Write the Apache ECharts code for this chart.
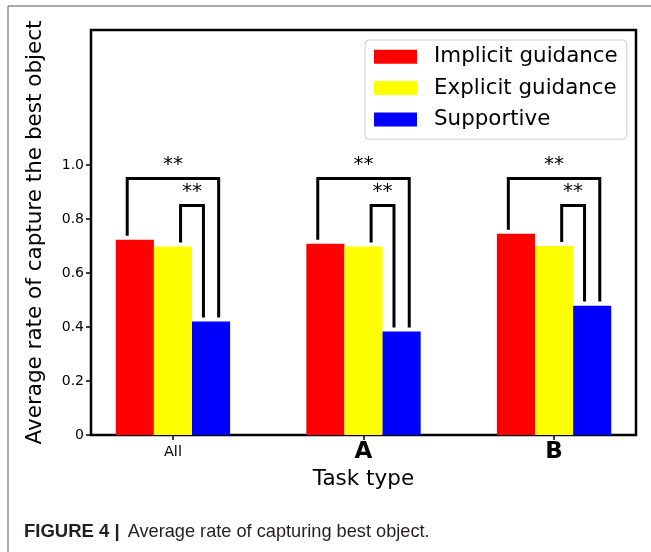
<!DOCTYPE html>
<html>
<head>
<meta charset="utf-8">
<script src="https://cdn.jsdelivr.net/npm/echarts@6/dist/echarts.min.js"></script>
<style>
html,body{margin:0;padding:0;background:#fff;}
#chart{width:651px;height:552px;}
</style>
</head>
<body>
<div id="chart"></div>
<script>
// ---- data ----
var categories = ['All', 'A', 'B'];
var seriesNames = ['Implicit guidance', 'Explicit guidance', 'Supportive'];
var implicitGuidance = [0.723, 0.708, 0.745];
var explicitGuidance = [0.698, 0.698, 0.700];
var supportive = [0.420, 0.383, 0.479];
var yTicks = [0, 0.2, 0.4, 0.6, 0.8, 1.0];
var sigPairs = [[0, 2], [1, 2]];      // compared bars within each group
var sigLabels = ['**', '**'];

// ---- layout ----
var W = 651, H = 552;
var plotLeft = 91, plotRight = 636, plotTop = 30, plotBottom = 435;
var xMin = -0.43, xMax = 2.43;
var unit = (plotRight - plotLeft) / (xMax - xMin);
var catLeft = plotLeft + (-0.5 - xMin) * unit;
var catWidth = categories.length * unit;
var colors = ['#ff0000', '#ffff00', '#0000ff'];
var allValues = [implicitGuidance, explicitGuidance, supportive];
var barW = 0.2;
var bracketTops = [0.95, 0.85];

var chart = echarts.init(document.getElementById('chart'), null, {renderer: 'canvas'});

var bracketData = [];
for (var g = 0; g < categories.length; g++) {
  for (var p = 0; p < sigPairs.length; p++) bracketData.push([g, p]);
}

function bracketGeom(g, p) {
  var pair = sigPairs[p];
  var off = function (i) { return (i - 1) * barW; };
  var x1, x2;
  if (p === 0) { x1 = g + off(pair[0]) - 0.04; x2 = g + off(pair[1]) + 0.04; }
  else { x1 = g + off(pair[0]) + 0.04; x2 = g + off(pair[1]) - 0.04; }
  return {x1: x1, x2: x2, top: bracketTops[p],
          b1: allValues[pair[0]][g] + 0.015, b2: allValues[pair[1]][g] + 0.015};
}

function renderBracket(params, api) {
  var G = bracketGeom(api.value(0), api.value(1));
  var P1 = api.coord([G.x1, G.b1]), P2 = api.coord([G.x1, G.top]);
  var P3 = api.coord([G.x2, G.top]), P4 = api.coord([G.x2, G.b2]);
  return {type: 'polyline', shape: {points: [P1, P2, P3, P4]},
          style: {stroke: '#000', lineWidth: 3, fill: null, lineJoin: 'miter'}};
}

function renderStars(params, api) {
  var p = api.value(1);
  var G = bracketGeom(api.value(0), p);
  var T = api.coord([(G.x1 + G.x2) / 2, G.top + 0.015]);
  return {type: 'text', x: T[0], y: T[1],
          style: {text: sigLabels[p], fill: '#000', fontSize: 20,
                  fontFamily: 'DejaVu Sans', align: 'center', verticalAlign: 'bottom'}};
}

var barSeries = seriesNames.map(function (name, i) {
  return {
    name: name, type: 'bar', xAxisIndex: 1, yAxisIndex: 1,
    data: allValues[i], barWidth: (barW * 100) + '%', barGap: '0%',
    itemStyle: {color: colors[i]}, animation: false, silent: true
  };
});

var option = {
  backgroundColor: '#fff',
  animation: false,
  textStyle: {fontFamily: 'DejaVu Sans'},
  grid: [
    {left: plotLeft, right: W - plotRight, top: plotTop, bottom: H - plotBottom,
     show: true, borderColor: '#000', borderWidth: 2.5, backgroundColor: 'transparent'},
    {left: catLeft, width: catWidth, top: plotTop, bottom: H - plotBottom}
  ],
  xAxis: [
    {type: 'value', gridIndex: 0, min: xMin, max: xMax, position: 'bottom',
     axisLine: {show: false, onZero: false}, splitLine: {show: false},
     axisTick: {show: true, customValues: [0, 1, 2], length: 5, lineStyle: {color: '#000', width: 1.5}},
     axisLabel: {customValues: [0, 1, 2], margin: 17, verticalAlign: 'middle',
       formatter: function (v) {
         var c = categories[Math.round(v)];
         return c === 'All' ? '{n|' + c + '}' : '{b|' + c + '}';
       },
       rich: {
         n: {fontSize: 14.5, color: '#000', fontFamily: 'DejaVu Sans'},
         b: {fontSize: 23, fontWeight: 'bold', color: '#000', fontFamily: 'DejaVu Sans'}
       }},
     name: 'Task type', nameLocation: 'middle', nameGap: 41,
     nameTextStyle: {fontSize: 21.5, color: '#000', fontFamily: 'DejaVu Sans', verticalAlign: 'middle'}},
    {type: 'category', gridIndex: 1, data: categories, show: false}
  ],
  yAxis: [
    {type: 'value', gridIndex: 0, min: 0, max: 1.5, position: 'left',
     axisLine: {show: false, onZero: false}, splitLine: {show: false},
     axisTick: {show: true, customValues: yTicks, length: 5, lineStyle: {color: '#000', width: 1.5}},
     axisLabel: {customValues: yTicks, margin: 7, fontSize: 14, color: '#000', fontFamily: 'DejaVu Sans',
       formatter: function (v) { return v === 0 ? '0' : v.toFixed(1); }},
     name: 'Average rate of capture the best object', nameLocation: 'middle', nameGap: 56,
     nameTextStyle: {fontSize: 21.5, color: '#000', fontFamily: 'DejaVu Sans', verticalAlign: 'middle'}},
    {type: 'value', gridIndex: 1, min: 0, max: 1.5, show: false}
  ],
  legend: {
    data: seriesNames, orient: 'vertical', left: 365, top: 40,
    icon: 'rect', itemWidth: 43, itemHeight: 14, itemGap: 10,
    padding: [6, 9, 9, 9],
    backgroundColor: 'rgba(255,255,255,0.8)', borderColor: '#cccccc', borderWidth: 1, borderRadius: 4,
    textStyle: {fontSize: 21.4, color: '#000', fontFamily: 'DejaVu Sans', lineHeight: 21.4, padding: [0, 0, 0, 12]},
    selectedMode: false
  },
  graphic: [
    {type: 'line', silent: true, shape: {x1: 8, y1: 6, x2: W, y2: 6}, style: {stroke: '#8c8c8c', lineWidth: 1.5}},
    {type: 'line', silent: true, shape: {x1: 8, y1: 6, x2: 8, y2: H}, style: {stroke: '#8c8c8c', lineWidth: 1.5}},
    {type: 'text', silent: true, left: 24, top: 522,
     style: {text: '{b|FIGURE 4 |}{n|Average rate of capturing best object.}',
       rich: {
         b: {fontSize: 18.5, fontWeight: 'bold', fill: '#231f20', fontFamily: 'Liberation Sans', padding: [0, 8, 0, 0]},
         n: {fontSize: 18.2, fill: '#231f20', fontFamily: 'Liberation Sans'}
       }}}
  ],
  series: barSeries.concat([
    {type: 'custom', name: 'brackets', xAxisIndex: 0, yAxisIndex: 0, renderItem: renderBracket,
     data: bracketData, silent: true, z: 5, animation: false},
    {type: 'custom', name: 'stars', xAxisIndex: 0, yAxisIndex: 0, renderItem: renderStars,
     data: bracketData, silent: true, z: 6, animation: false}
  ])
};
chart.setOption(option);
</script>
</body>
</html>
